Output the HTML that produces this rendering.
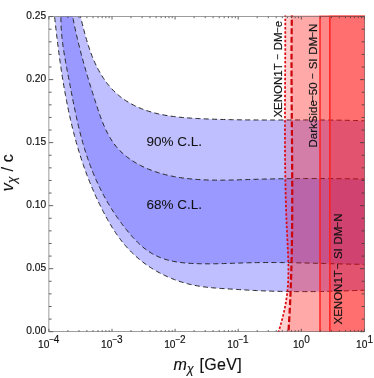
<!DOCTYPE html>
<html><head><meta charset="utf-8"><title>plot</title>
<style>
html,body{margin:0;padding:0;background:#fff;overflow:hidden;}
svg{display:block;will-change:transform;font-family:"Liberation Sans",sans-serif;}
.t text{stroke:#111;stroke-width:0.16px;}
.t text.big{stroke-width:0.06px;}
</style></head>
<body>
<svg width="374" height="378" viewBox="0 0 374 378">
<rect width="374" height="378" fill="#fff"/>
<defs>
<filter id="f" x="0" y="0" width="374" height="378" filterUnits="userSpaceOnUse"><feOffset dx="0" dy="0"/></filter>
<clipPath id="c"><rect x="48.9" y="16.6" width="315.5" height="315.1"/></clipPath>
<clipPath id="c2"><rect x="48.9" y="15.45" width="316.05" height="316.60"/></clipPath>
</defs>
<g clip-path="url(#c)">
<path d="M53.9 9.0L53.91 10.54L54.07 12.03L54.23 13.52L54.39 15.01L54.55 16.50L54.72 18.00L54.88 19.49L55.05 20.98L55.21 22.47L55.38 23.97L55.55 25.46L55.72 26.96L55.89 28.45L56.06 29.95L56.23 31.44L56.41 32.94L56.58 34.44L56.76 35.93L56.94 37.43L57.12 38.93L57.30 40.42L57.48 41.92L57.67 43.42L57.85 44.92L58.04 46.41L58.23 47.91L58.42 49.41L58.62 50.91L58.81 52.40L59.01 53.90L59.21 55.40L59.42 56.90L59.62 58.39L59.83 59.89L60.03 61.39L60.25 62.89L60.46 64.38L60.67 65.88L60.89 67.38L61.11 68.87L61.34 70.37L61.56 71.86L61.79 73.36L62.02 74.85L62.26 76.35L62.49 77.84L62.73 79.33L62.97 80.83L63.22 82.32L63.47 83.81L63.72 85.30L63.97 86.79L64.23 88.28L64.49 89.77L64.76 91.26L65.02 92.75L65.29 94.23L65.57 95.72L65.84 97.21L66.12 98.69L66.41 100.18L66.70 101.66L66.99 103.14L67.28 104.62L67.58 106.10L67.88 107.58L68.19 109.06L68.50 110.54L68.81 112.02L69.13 113.49L69.45 114.97L69.78 116.44L70.11 117.91L70.44 119.38L70.78 120.86L71.12 122.32L71.47 123.79L71.82 125.26L72.18 126.72L72.54 128.19L72.90 129.65L73.27 131.11L73.64 132.57L74.02 134.03L74.40 135.49L74.79 136.94L75.18 138.40L75.58 139.85L75.98 141.30L76.39 142.75L76.80 144.20L77.22 145.65L77.64 147.09L78.06 148.53L78.50 149.98L78.93 151.42L79.37 152.85L79.82 154.29L80.28 155.73L80.73 157.16L81.20 158.59L81.67 160.02L82.14 161.45L82.62 162.87L83.11 164.30L83.60 165.72L84.10 167.14L84.60 168.56L85.11 169.97L85.62 171.39L86.14 172.80L86.67 174.21L87.20 175.62L87.74 177.02L88.28 178.43L88.83 179.83L89.38 181.23L89.94 182.62L90.51 184.02L91.08 185.41L91.66 186.80L92.25 188.19L92.84 189.58L93.44 190.96L94.04 192.35L94.65 193.73L95.27 195.10L95.89 196.48L96.52 197.85L97.16 199.22L97.80 200.59L98.45 201.96L99.10 203.32L99.76 204.68L100.43 206.04L101.10 207.40L101.79 208.75L102.47 210.10L103.17 211.45L103.87 212.80L104.58 214.14L105.29 215.48L106.02 216.82L106.75 218.15L107.49 219.47L108.23 220.79L108.99 222.11L109.76 223.42L110.53 224.72L111.32 226.02L112.11 227.31L112.92 228.60L113.73 229.87L114.56 231.14L115.39 232.40L116.24 233.65L117.10 234.89L117.97 236.13L118.85 237.35L119.74 238.56L120.65 239.77L121.57 240.96L122.50 242.14L123.45 243.31L124.40 244.47L125.38 245.61L126.36 246.74L127.36 247.86L128.38 248.97L129.41 250.06L130.45 251.14L131.51 252.21L132.58 253.26L133.67 254.30L134.77 255.32L135.88 256.33L137.01 257.33L138.15 258.31L139.30 259.27L140.47 260.22L141.64 261.16L142.83 262.08L144.04 262.99L145.25 263.88L146.47 264.76L147.71 265.62L148.95 266.47L150.21 267.30L151.48 268.12L152.76 268.92L154.04 269.70L155.34 270.47L156.65 271.23L157.97 271.97L159.29 272.69L160.62 273.40L161.97 274.09L163.32 274.76L164.68 275.42L166.04 276.06L167.42 276.69L168.80 277.30L170.19 277.89L171.59 278.47L172.99 279.03L174.40 279.57L175.81 280.10L177.24 280.61L178.66 281.10L180.10 281.58L181.54 282.03L182.98 282.47L184.43 282.90L185.88 283.30L187.34 283.69L188.80 284.06L190.26 284.41L191.73 284.75L193.21 285.07L194.68 285.37L196.16 285.65L197.64 285.91L199.13 286.16L200.61 286.39L202.10 286.61L203.59 286.82L205.09 287.01L206.58 287.19L208.08 287.36L209.58 287.51L211.08 287.66L212.59 287.80L214.09 287.93L215.59 288.06L217.10 288.17L218.61 288.28L220.12 288.39L221.63 288.49L223.14 288.59L224.64 288.68L226.15 288.78L227.67 288.87L229.18 288.96L230.69 289.06L232.19 289.15L233.70 289.25L235.21 289.34L236.72 289.44L238.23 289.53L239.74 289.63L241.25 289.72L242.76 289.81L244.27 289.90L245.77 289.99L247.28 290.08L248.79 290.17L250.30 290.25L251.81 290.33L253.31 290.41L254.82 290.48L256.33 290.56L257.84 290.63L259.34 290.70L260.85 290.76L262.36 290.82L263.86 290.88L265.37 290.94L266.88 291.00L268.39 291.05L269.89 291.10L271.40 291.15L272.91 291.19L274.41 291.24L275.92 291.28L277.43 291.31L278.93 291.35L280.44 291.38L281.95 291.42L283.45 291.44L284.96 291.47L286.47 291.50L287.97 291.52L289.48 291.54L290.99 291.56L292.49 291.57L294.00 291.59L295.51 291.60L297.01 291.61L298.52 291.61L300.03 291.62L301.53 291.62L303.04 291.62L304.55 291.62L306.05 291.62L307.56 291.62L309.07 291.61L310.58 291.60L312.08 291.59L313.59 291.58L315.10 291.56L316.60 291.54L318.11 291.53L319.62 291.51L321.13 291.48L322.63 291.46L324.14 291.43L325.65 291.41L327.16 291.38L328.67 291.35L330.17 291.31L331.68 291.28L333.19 291.24L334.70 291.20L336.21 291.16L337.71 291.12L339.22 291.08L340.73 291.03L342.24 290.99L343.75 290.94L345.26 290.89L346.77 290.84L348.28 290.79L349.79 290.73L351.30 290.68L352.81 290.62L354.32 290.56L355.83 290.50L357.34 290.44L358.85 290.38L360.36 290.32L361.87 290.25L363.38 290.18L364.89 290.11L366.40 290.05L366.4 120.8L364.93 120.82L363.40 120.77L361.88 120.72L360.36 120.67L358.84 120.62L357.31 120.57L355.79 120.53L354.27 120.49L352.76 120.45L351.24 120.41L349.72 120.37L348.21 120.34L346.69 120.31L345.18 120.28L343.66 120.25L342.15 120.22L340.64 120.19L339.13 120.17L337.62 120.15L336.11 120.13L334.60 120.11L333.09 120.09L331.58 120.07L330.07 120.06L328.57 120.04L327.06 120.03L325.56 120.02L324.05 120.01L322.55 120.00L321.04 119.99L319.54 119.98L318.04 119.98L316.54 119.97L315.03 119.97L313.53 119.96L312.03 119.96L310.53 119.96L309.03 119.96L307.53 119.95L306.03 119.95L304.53 119.95L303.03 119.95L301.53 119.96L300.04 119.96L298.54 119.96L297.04 119.96L295.54 119.96L294.04 119.97L292.55 119.97L291.05 119.97L289.55 119.98L288.06 119.98L286.56 119.98L285.06 119.98L283.57 119.99L282.07 119.99L280.57 119.99L279.08 120.00L277.58 120.00L276.08 120.00L274.59 120.00L273.09 120.00L271.59 120.00L270.09 120.00L268.60 120.00L267.10 120.00L265.60 120.00L264.11 120.00L262.61 119.99L261.11 119.99L259.61 119.98L258.11 119.98L256.61 119.97L255.12 119.97L253.62 119.96L252.12 119.95L250.62 119.94L249.12 119.92L247.62 119.91L246.11 119.90L244.61 119.88L243.11 119.87L241.61 119.85L240.11 119.83L238.60 119.81L237.10 119.78L235.59 119.76L234.09 119.73L232.58 119.71L231.08 119.68L229.57 119.65L228.07 119.61L226.56 119.58L225.05 119.54L223.54 119.51L222.03 119.47L220.52 119.42L219.01 119.38L217.50 119.33L215.98 119.29L214.47 119.23L212.96 119.18L211.44 119.13L209.92 119.07L208.41 119.01L206.89 118.95L205.37 118.88L203.85 118.82L202.33 118.75L200.81 118.67L199.29 118.60L197.77 118.52L196.24 118.44L194.72 118.35L193.19 118.26L191.67 118.17L190.15 118.07L188.62 117.97L187.10 117.85L185.58 117.74L184.06 117.61L182.54 117.48L181.02 117.34L179.50 117.19L177.99 117.03L176.48 116.86L174.97 116.68L173.46 116.49L171.96 116.29L170.46 116.08L168.96 115.85L167.47 115.62L165.98 115.37L164.50 115.11L163.02 114.83L161.54 114.54L160.07 114.23L158.60 113.91L157.14 113.58L155.68 113.22L154.23 112.85L152.79 112.47L151.35 112.06L149.92 111.64L148.49 111.20L147.07 110.74L145.66 110.26L144.25 109.76L142.85 109.24L141.46 108.70L140.08 108.13L138.71 107.55L137.34 106.94L135.99 106.32L134.64 105.67L133.31 104.99L131.99 104.30L130.68 103.58L129.38 102.84L128.10 102.08L126.83 101.30L125.58 100.49L124.35 99.66L123.13 98.81L121.92 97.93L120.74 97.04L119.57 96.11L118.42 95.17L117.30 94.20L116.19 93.21L115.10 92.19L114.04 91.16L112.99 90.10L111.97 89.02L110.96 87.92L109.97 86.80L109.01 85.65L108.06 84.50L107.13 83.32L106.22 82.12L105.33 80.91L104.46 79.68L103.61 78.44L102.78 77.18L101.96 75.90L101.17 74.61L100.39 73.31L99.63 71.99L98.88 70.67L98.16 69.33L97.45 67.98L96.76 66.62L96.08 65.25L95.42 63.87L94.78 62.48L94.16 61.08L93.55 59.68L92.96 58.27L92.38 56.85L91.82 55.43L91.27 54.00L90.74 52.56L90.22 51.12L89.72 49.68L89.22 48.23L88.74 46.78L88.27 45.33L87.81 43.87L87.36 42.41L86.92 40.95L86.49 39.48L86.06 38.02L85.65 36.55L85.24 35.09L84.84 33.62L84.45 32.16L84.06 30.70L83.68 29.23L83.31 27.77L82.93 26.32L82.57 24.86L82.20 23.41L81.84 21.96L81.48 20.51L81.12 19.07L80.76 17.64L80.41 16.21L80.05 14.78L79.70 13.36L79.34 11.95L78.98 10.54L78.62 9.15Z" fill="#bfbfff"/>
<path d="M60.9 9.0L61.08 10.48L61.02 12.02L60.97 13.55L60.93 15.08L60.91 16.61L60.91 18.13L60.92 19.65L60.94 21.17L60.98 22.68L61.03 24.20L61.09 25.71L61.17 27.21L61.25 28.72L61.35 30.22L61.46 31.72L61.58 33.22L61.72 34.72L61.86 36.22L62.01 37.71L62.17 39.20L62.34 40.69L62.52 42.18L62.71 43.67L62.91 45.15L63.11 46.64L63.32 48.12L63.54 49.60L63.77 51.09L64.00 52.57L64.24 54.05L64.48 55.53L64.73 57.00L64.98 58.48L65.24 59.96L65.51 61.44L65.77 62.91L66.04 64.39L66.32 65.87L66.59 67.34L66.87 68.82L67.15 70.30L67.43 71.78L67.72 73.25L68.00 74.73L68.29 76.21L68.57 77.69L68.86 79.17L69.14 80.65L69.43 82.13L69.71 83.62L70.00 85.10L70.28 86.58L70.57 88.07L70.85 89.55L71.14 91.04L71.42 92.52L71.71 94.01L72.00 95.49L72.29 96.98L72.58 98.47L72.87 99.95L73.16 101.44L73.46 102.92L73.75 104.41L74.05 105.89L74.36 107.37L74.66 108.86L74.97 110.34L75.28 111.82L75.59 113.30L75.91 114.78L76.23 116.26L76.55 117.74L76.88 119.21L77.21 120.69L77.54 122.16L77.88 123.63L78.22 125.10L78.57 126.57L78.92 128.04L79.28 129.51L79.64 130.97L80.01 132.43L80.38 133.89L80.76 135.35L81.14 136.81L81.53 138.26L81.93 139.71L82.33 141.16L82.74 142.61L83.15 144.05L83.57 145.49L84.00 146.93L84.43 148.36L84.87 149.80L85.32 151.23L85.78 152.66L86.24 154.08L86.71 155.50L87.18 156.92L87.66 158.34L88.15 159.76L88.65 161.17L89.16 162.58L89.67 163.98L90.19 165.38L90.71 166.78L91.25 168.18L91.79 169.57L92.34 170.96L92.90 172.35L93.47 173.74L94.05 175.12L94.63 176.50L95.22 177.87L95.82 179.24L96.43 180.61L97.05 181.97L97.68 183.34L98.31 184.69L98.96 186.05L99.61 187.40L100.27 188.75L100.94 190.09L101.62 191.43L102.31 192.77L103.01 194.11L103.72 195.44L104.44 196.76L105.17 198.09L105.90 199.41L106.65 200.72L107.41 202.03L108.17 203.34L108.95 204.64L109.73 205.94L110.52 207.23L111.33 208.52L112.14 209.81L112.96 211.09L113.79 212.36L114.63 213.63L115.47 214.89L116.33 216.15L117.20 217.40L118.07 218.65L118.95 219.89L119.84 221.13L120.75 222.35L121.65 223.58L122.57 224.79L123.50 226.00L124.43 227.21L125.38 228.40L126.33 229.59L127.29 230.78L128.25 231.95L129.23 233.12L130.22 234.28L131.21 235.44L132.21 236.58L133.23 237.71L134.25 238.83L135.29 239.93L136.33 241.02L137.40 242.09L138.47 243.14L139.56 244.17L140.66 245.18L141.78 246.17L142.91 247.14L144.06 248.08L145.22 248.99L146.41 249.88L147.61 250.74L148.83 251.57L150.07 252.36L151.32 253.13L152.60 253.87L153.89 254.58L155.19 255.26L156.52 255.90L157.85 256.52L159.21 257.11L160.58 257.67L161.96 258.19L163.35 258.69L164.76 259.16L166.18 259.60L167.62 260.01L169.06 260.39L170.52 260.74L171.98 261.06L173.45 261.36L174.94 261.64L176.43 261.89L177.92 262.13L179.43 262.34L180.94 262.53L182.45 262.70L183.97 262.86L185.49 263.00L187.01 263.12L188.54 263.23L190.07 263.33L191.59 263.42L193.12 263.49L194.64 263.56L196.17 263.62L197.69 263.67L199.21 263.71L200.73 263.74L202.25 263.77L203.76 263.79L205.28 263.81L206.79 263.81L208.30 263.82L209.82 263.81L211.33 263.80L212.84 263.79L214.34 263.77L215.85 263.75L217.36 263.72L218.86 263.69L220.37 263.65L221.87 263.62L223.38 263.58L224.88 263.53L226.38 263.49L227.88 263.44L229.39 263.39L230.89 263.35L232.39 263.30L233.89 263.24L235.39 263.19L236.89 263.14L238.39 263.09L239.89 263.04L241.39 262.99L242.89 262.94L244.39 262.90L245.89 262.85L247.39 262.81L248.89 262.77L250.40 262.74L251.90 262.70L253.40 262.67L254.90 262.64L256.40 262.62L257.91 262.60L259.41 262.58L260.92 262.56L262.42 262.55L263.92 262.54L265.43 262.53L266.93 262.52L268.44 262.52L269.94 262.52L271.45 262.52L272.96 262.52L274.46 262.53L275.97 262.53L277.48 262.54L278.98 262.55L280.49 262.57L282.00 262.58L283.50 262.60L285.01 262.62L286.52 262.64L288.03 262.66L289.54 262.68L291.04 262.71L292.55 262.73L294.06 262.76L295.57 262.79L297.08 262.82L298.59 262.85L300.09 262.88L301.60 262.91L303.11 262.95L304.62 262.98L306.13 263.02L307.64 263.06L309.15 263.09L310.66 263.13L312.17 263.17L313.67 263.21L315.18 263.25L316.69 263.29L318.20 263.33L319.71 263.37L321.22 263.41L322.73 263.45L324.24 263.49L325.74 263.53L327.25 263.57L328.76 263.61L330.27 263.65L331.78 263.69L333.28 263.73L334.79 263.77L336.30 263.81L337.81 263.85L339.31 263.89L340.82 263.92L342.33 263.96L343.83 264.00L345.34 264.03L346.85 264.07L348.35 264.10L349.86 264.13L351.36 264.16L352.87 264.19L354.37 264.22L355.88 264.25L357.38 264.28L358.88 264.30L360.39 264.33L361.89 264.35L363.39 264.37L364.90 264.39L366.40 264.41L366.4 179.0L364.90 179.00L363.40 178.98L361.91 178.95L360.41 178.93L358.92 178.91L357.42 178.89L355.92 178.86L354.42 178.84L352.92 178.82L351.41 178.80L349.91 178.78L348.41 178.77L346.90 178.75L345.39 178.73L343.88 178.71L342.38 178.70L340.87 178.68L339.36 178.67L337.84 178.66L336.33 178.64L334.82 178.63L333.31 178.62L331.79 178.61L330.28 178.60L328.76 178.59L327.25 178.58L325.73 178.58L324.21 178.57L322.70 178.56L321.18 178.56L319.66 178.55L318.14 178.55L316.62 178.55L315.10 178.55L313.59 178.55L312.07 178.55L310.55 178.55L309.03 178.55L307.51 178.55L305.99 178.56L304.47 178.56L302.95 178.57L301.43 178.58L299.91 178.58L298.39 178.59L296.87 178.60L295.35 178.61L293.84 178.63L292.32 178.64L290.80 178.65L289.28 178.67L287.77 178.68L286.25 178.70L284.73 178.72L283.22 178.74L281.70 178.76L280.19 178.78L278.68 178.81L277.16 178.83L275.65 178.86L274.14 178.88L272.63 178.91L271.12 178.94L269.61 178.97L268.10 179.00L266.59 179.03L265.09 179.07L263.58 179.10L262.08 179.14L260.58 179.18L259.08 179.22L257.57 179.26L256.07 179.30L254.58 179.34L253.08 179.38L251.58 179.43L250.09 179.48L248.60 179.52L247.10 179.57L245.61 179.62L244.12 179.67L242.63 179.71L241.14 179.76L239.64 179.81L238.15 179.85L236.66 179.89L235.17 179.93L233.68 179.97L232.18 180.01L230.69 180.04L229.19 180.07L227.69 180.09L226.19 180.12L224.69 180.14L223.19 180.15L221.69 180.16L220.18 180.16L218.67 180.16L217.16 180.16L215.65 180.15L214.13 180.13L212.62 180.11L211.10 180.08L209.57 180.04L208.05 180.00L206.53 179.95L205.00 179.89L203.47 179.82L201.95 179.75L200.42 179.66L198.89 179.57L197.37 179.47L195.84 179.36L194.31 179.24L192.79 179.11L191.26 178.97L189.74 178.81L188.22 178.65L186.70 178.48L185.18 178.30L183.66 178.10L182.15 177.89L180.64 177.67L179.13 177.44L177.63 177.19L176.13 176.94L174.63 176.66L173.14 176.38L171.65 176.08L170.17 175.77L168.69 175.44L167.21 175.10L165.74 174.74L164.28 174.37L162.82 173.98L161.37 173.57L159.92 173.15L158.48 172.72L157.05 172.26L155.62 171.79L154.20 171.31L152.79 170.80L151.39 170.28L149.99 169.74L148.60 169.18L147.22 168.60L145.85 168.00L144.49 167.39L143.13 166.75L141.79 166.09L140.45 165.42L139.13 164.72L137.81 164.01L136.51 163.27L135.21 162.51L133.93 161.73L132.66 160.93L131.41 160.10L130.17 159.26L128.94 158.39L127.74 157.50L126.55 156.59L125.38 155.65L124.23 154.69L123.10 153.71L122.00 152.71L120.91 151.68L119.85 150.63L118.81 149.55L117.80 148.45L116.82 147.32L115.86 146.17L114.94 145.00L114.04 143.80L113.16 142.58L112.31 141.34L111.49 140.08L110.68 138.80L109.91 137.51L109.15 136.20L108.42 134.87L107.71 133.53L107.01 132.18L106.34 130.82L105.68 129.45L105.05 128.07L104.43 126.68L103.82 125.28L103.23 123.88L102.66 122.47L102.10 121.06L101.55 119.64L101.01 118.21L100.48 116.78L99.97 115.35L99.46 113.91L98.96 112.47L98.47 111.03L97.98 109.58L97.50 108.13L97.02 106.69L96.55 105.24L96.08 103.79L95.62 102.35L95.15 100.90L94.69 99.45L94.22 98.01L93.76 96.57L93.30 95.12L92.85 93.68L92.39 92.24L91.94 90.80L91.49 89.35L91.04 87.91L90.59 86.47L90.15 85.03L89.70 83.59L89.26 82.15L88.83 80.71L88.39 79.27L87.96 77.83L87.53 76.39L87.10 74.95L86.67 73.51L86.25 72.06L85.83 70.62L85.41 69.18L85.00 67.74L84.59 66.29L84.18 64.85L83.77 63.40L83.37 61.96L82.97 60.51L82.57 59.06L82.18 57.62L81.79 56.17L81.40 54.72L81.02 53.26L80.64 51.81L80.26 50.36L79.89 48.90L79.52 47.45L79.15 45.99L78.79 44.53L78.43 43.07L78.08 41.61L77.73 40.14L77.38 38.68L77.04 37.21L76.70 35.74L76.36 34.27L76.03 32.80L75.70 31.32L75.38 29.84L75.06 28.37L74.75 26.88L74.44 25.40L74.13 23.92L73.83 22.43L73.54 20.94L73.24 19.44L72.96 17.95L72.67 16.45L72.40 14.95L72.12 13.45L71.86 11.94L71.59 10.43L71.34 8.92Z" fill="#9999ff"/>
<g fill="none" stroke="#262626" stroke-width="1.0" stroke-dasharray="5 3.3">
<path d="M53.9 9.0L53.91 10.54L54.07 12.03L54.23 13.52L54.39 15.01L54.55 16.50L54.72 18.00L54.88 19.49L55.05 20.98L55.21 22.47L55.38 23.97L55.55 25.46L55.72 26.96L55.89 28.45L56.06 29.95L56.23 31.44L56.41 32.94L56.58 34.44L56.76 35.93L56.94 37.43L57.12 38.93L57.30 40.42L57.48 41.92L57.67 43.42L57.85 44.92L58.04 46.41L58.23 47.91L58.42 49.41L58.62 50.91L58.81 52.40L59.01 53.90L59.21 55.40L59.42 56.90L59.62 58.39L59.83 59.89L60.03 61.39L60.25 62.89L60.46 64.38L60.67 65.88L60.89 67.38L61.11 68.87L61.34 70.37L61.56 71.86L61.79 73.36L62.02 74.85L62.26 76.35L62.49 77.84L62.73 79.33L62.97 80.83L63.22 82.32L63.47 83.81L63.72 85.30L63.97 86.79L64.23 88.28L64.49 89.77L64.76 91.26L65.02 92.75L65.29 94.23L65.57 95.72L65.84 97.21L66.12 98.69L66.41 100.18L66.70 101.66L66.99 103.14L67.28 104.62L67.58 106.10L67.88 107.58L68.19 109.06L68.50 110.54L68.81 112.02L69.13 113.49L69.45 114.97L69.78 116.44L70.11 117.91L70.44 119.38L70.78 120.86L71.12 122.32L71.47 123.79L71.82 125.26L72.18 126.72L72.54 128.19L72.90 129.65L73.27 131.11L73.64 132.57L74.02 134.03L74.40 135.49L74.79 136.94L75.18 138.40L75.58 139.85L75.98 141.30L76.39 142.75L76.80 144.20L77.22 145.65L77.64 147.09L78.06 148.53L78.50 149.98L78.93 151.42L79.37 152.85L79.82 154.29L80.28 155.73L80.73 157.16L81.20 158.59L81.67 160.02L82.14 161.45L82.62 162.87L83.11 164.30L83.60 165.72L84.10 167.14L84.60 168.56L85.11 169.97L85.62 171.39L86.14 172.80L86.67 174.21L87.20 175.62L87.74 177.02L88.28 178.43L88.83 179.83L89.38 181.23L89.94 182.62L90.51 184.02L91.08 185.41L91.66 186.80L92.25 188.19L92.84 189.58L93.44 190.96L94.04 192.35L94.65 193.73L95.27 195.10L95.89 196.48L96.52 197.85L97.16 199.22L97.80 200.59L98.45 201.96L99.10 203.32L99.76 204.68L100.43 206.04L101.10 207.40L101.79 208.75L102.47 210.10L103.17 211.45L103.87 212.80L104.58 214.14L105.29 215.48L106.02 216.82L106.75 218.15L107.49 219.47L108.23 220.79L108.99 222.11L109.76 223.42L110.53 224.72L111.32 226.02L112.11 227.31L112.92 228.60L113.73 229.87L114.56 231.14L115.39 232.40L116.24 233.65L117.10 234.89L117.97 236.13L118.85 237.35L119.74 238.56L120.65 239.77L121.57 240.96L122.50 242.14L123.45 243.31L124.40 244.47L125.38 245.61L126.36 246.74L127.36 247.86L128.38 248.97L129.41 250.06L130.45 251.14L131.51 252.21L132.58 253.26L133.67 254.30L134.77 255.32L135.88 256.33L137.01 257.33L138.15 258.31L139.30 259.27L140.47 260.22L141.64 261.16L142.83 262.08L144.04 262.99L145.25 263.88L146.47 264.76L147.71 265.62L148.95 266.47L150.21 267.30L151.48 268.12L152.76 268.92L154.04 269.70L155.34 270.47L156.65 271.23L157.97 271.97L159.29 272.69L160.62 273.40L161.97 274.09L163.32 274.76L164.68 275.42L166.04 276.06L167.42 276.69L168.80 277.30L170.19 277.89L171.59 278.47L172.99 279.03L174.40 279.57L175.81 280.10L177.24 280.61L178.66 281.10L180.10 281.58L181.54 282.03L182.98 282.47L184.43 282.90L185.88 283.30L187.34 283.69L188.80 284.06L190.26 284.41L191.73 284.75L193.21 285.07L194.68 285.37L196.16 285.65L197.64 285.91L199.13 286.16L200.61 286.39L202.10 286.61L203.59 286.82L205.09 287.01L206.58 287.19L208.08 287.36L209.58 287.51L211.08 287.66L212.59 287.80L214.09 287.93L215.59 288.06L217.10 288.17L218.61 288.28L220.12 288.39L221.63 288.49L223.14 288.59L224.64 288.68L226.15 288.78L227.67 288.87L229.18 288.96L230.69 289.06L232.19 289.15L233.70 289.25L235.21 289.34L236.72 289.44L238.23 289.53L239.74 289.63L241.25 289.72L242.76 289.81L244.27 289.90L245.77 289.99L247.28 290.08L248.79 290.17L250.30 290.25L251.81 290.33L253.31 290.41L254.82 290.48L256.33 290.56L257.84 290.63L259.34 290.70L260.85 290.76L262.36 290.82L263.86 290.88L265.37 290.94L266.88 291.00L268.39 291.05L269.89 291.10L271.40 291.15L272.91 291.19L274.41 291.24L275.92 291.28L277.43 291.31L278.93 291.35L280.44 291.38L281.95 291.42L283.45 291.44L284.96 291.47L286.47 291.50L287.97 291.52L289.48 291.54L290.99 291.56L292.49 291.57L294.00 291.59L295.51 291.60L297.01 291.61L298.52 291.61L300.03 291.62L301.53 291.62L303.04 291.62L304.55 291.62L306.05 291.62L307.56 291.62L309.07 291.61L310.58 291.60L312.08 291.59L313.59 291.58L315.10 291.56L316.60 291.54L318.11 291.53L319.62 291.51L321.13 291.48L322.63 291.46L324.14 291.43L325.65 291.41L327.16 291.38L328.67 291.35L330.17 291.31L331.68 291.28L333.19 291.24L334.70 291.20L336.21 291.16L337.71 291.12L339.22 291.08L340.73 291.03L342.24 290.99L343.75 290.94L345.26 290.89L346.77 290.84L348.28 290.79L349.79 290.73L351.30 290.68L352.81 290.62L354.32 290.56L355.83 290.50L357.34 290.44L358.85 290.38L360.36 290.32L361.87 290.25L363.38 290.18L364.89 290.11L366.40 290.05"/><path d="M366.4 120.8L364.93 120.82L363.40 120.77L361.88 120.72L360.36 120.67L358.84 120.62L357.31 120.57L355.79 120.53L354.27 120.49L352.76 120.45L351.24 120.41L349.72 120.37L348.21 120.34L346.69 120.31L345.18 120.28L343.66 120.25L342.15 120.22L340.64 120.19L339.13 120.17L337.62 120.15L336.11 120.13L334.60 120.11L333.09 120.09L331.58 120.07L330.07 120.06L328.57 120.04L327.06 120.03L325.56 120.02L324.05 120.01L322.55 120.00L321.04 119.99L319.54 119.98L318.04 119.98L316.54 119.97L315.03 119.97L313.53 119.96L312.03 119.96L310.53 119.96L309.03 119.96L307.53 119.95L306.03 119.95L304.53 119.95L303.03 119.95L301.53 119.96L300.04 119.96L298.54 119.96L297.04 119.96L295.54 119.96L294.04 119.97L292.55 119.97L291.05 119.97L289.55 119.98L288.06 119.98L286.56 119.98L285.06 119.98L283.57 119.99L282.07 119.99L280.57 119.99L279.08 120.00L277.58 120.00L276.08 120.00L274.59 120.00L273.09 120.00L271.59 120.00L270.09 120.00L268.60 120.00L267.10 120.00L265.60 120.00L264.11 120.00L262.61 119.99L261.11 119.99L259.61 119.98L258.11 119.98L256.61 119.97L255.12 119.97L253.62 119.96L252.12 119.95L250.62 119.94L249.12 119.92L247.62 119.91L246.11 119.90L244.61 119.88L243.11 119.87L241.61 119.85L240.11 119.83L238.60 119.81L237.10 119.78L235.59 119.76L234.09 119.73L232.58 119.71L231.08 119.68L229.57 119.65L228.07 119.61L226.56 119.58L225.05 119.54L223.54 119.51L222.03 119.47L220.52 119.42L219.01 119.38L217.50 119.33L215.98 119.29L214.47 119.23L212.96 119.18L211.44 119.13L209.92 119.07L208.41 119.01L206.89 118.95L205.37 118.88L203.85 118.82L202.33 118.75L200.81 118.67L199.29 118.60L197.77 118.52L196.24 118.44L194.72 118.35L193.19 118.26L191.67 118.17L190.15 118.07L188.62 117.97L187.10 117.85L185.58 117.74L184.06 117.61L182.54 117.48L181.02 117.34L179.50 117.19L177.99 117.03L176.48 116.86L174.97 116.68L173.46 116.49L171.96 116.29L170.46 116.08L168.96 115.85L167.47 115.62L165.98 115.37L164.50 115.11L163.02 114.83L161.54 114.54L160.07 114.23L158.60 113.91L157.14 113.58L155.68 113.22L154.23 112.85L152.79 112.47L151.35 112.06L149.92 111.64L148.49 111.20L147.07 110.74L145.66 110.26L144.25 109.76L142.85 109.24L141.46 108.70L140.08 108.13L138.71 107.55L137.34 106.94L135.99 106.32L134.64 105.67L133.31 104.99L131.99 104.30L130.68 103.58L129.38 102.84L128.10 102.08L126.83 101.30L125.58 100.49L124.35 99.66L123.13 98.81L121.92 97.93L120.74 97.04L119.57 96.11L118.42 95.17L117.30 94.20L116.19 93.21L115.10 92.19L114.04 91.16L112.99 90.10L111.97 89.02L110.96 87.92L109.97 86.80L109.01 85.65L108.06 84.50L107.13 83.32L106.22 82.12L105.33 80.91L104.46 79.68L103.61 78.44L102.78 77.18L101.96 75.90L101.17 74.61L100.39 73.31L99.63 71.99L98.88 70.67L98.16 69.33L97.45 67.98L96.76 66.62L96.08 65.25L95.42 63.87L94.78 62.48L94.16 61.08L93.55 59.68L92.96 58.27L92.38 56.85L91.82 55.43L91.27 54.00L90.74 52.56L90.22 51.12L89.72 49.68L89.22 48.23L88.74 46.78L88.27 45.33L87.81 43.87L87.36 42.41L86.92 40.95L86.49 39.48L86.06 38.02L85.65 36.55L85.24 35.09L84.84 33.62L84.45 32.16L84.06 30.70L83.68 29.23L83.31 27.77L82.93 26.32L82.57 24.86L82.20 23.41L81.84 21.96L81.48 20.51L81.12 19.07L80.76 17.64L80.41 16.21L80.05 14.78L79.70 13.36L79.34 11.95L78.98 10.54L78.62 9.15"/>
<path d="M60.9 9.0L61.08 10.48L61.02 12.02L60.97 13.55L60.93 15.08L60.91 16.61L60.91 18.13L60.92 19.65L60.94 21.17L60.98 22.68L61.03 24.20L61.09 25.71L61.17 27.21L61.25 28.72L61.35 30.22L61.46 31.72L61.58 33.22L61.72 34.72L61.86 36.22L62.01 37.71L62.17 39.20L62.34 40.69L62.52 42.18L62.71 43.67L62.91 45.15L63.11 46.64L63.32 48.12L63.54 49.60L63.77 51.09L64.00 52.57L64.24 54.05L64.48 55.53L64.73 57.00L64.98 58.48L65.24 59.96L65.51 61.44L65.77 62.91L66.04 64.39L66.32 65.87L66.59 67.34L66.87 68.82L67.15 70.30L67.43 71.78L67.72 73.25L68.00 74.73L68.29 76.21L68.57 77.69L68.86 79.17L69.14 80.65L69.43 82.13L69.71 83.62L70.00 85.10L70.28 86.58L70.57 88.07L70.85 89.55L71.14 91.04L71.42 92.52L71.71 94.01L72.00 95.49L72.29 96.98L72.58 98.47L72.87 99.95L73.16 101.44L73.46 102.92L73.75 104.41L74.05 105.89L74.36 107.37L74.66 108.86L74.97 110.34L75.28 111.82L75.59 113.30L75.91 114.78L76.23 116.26L76.55 117.74L76.88 119.21L77.21 120.69L77.54 122.16L77.88 123.63L78.22 125.10L78.57 126.57L78.92 128.04L79.28 129.51L79.64 130.97L80.01 132.43L80.38 133.89L80.76 135.35L81.14 136.81L81.53 138.26L81.93 139.71L82.33 141.16L82.74 142.61L83.15 144.05L83.57 145.49L84.00 146.93L84.43 148.36L84.87 149.80L85.32 151.23L85.78 152.66L86.24 154.08L86.71 155.50L87.18 156.92L87.66 158.34L88.15 159.76L88.65 161.17L89.16 162.58L89.67 163.98L90.19 165.38L90.71 166.78L91.25 168.18L91.79 169.57L92.34 170.96L92.90 172.35L93.47 173.74L94.05 175.12L94.63 176.50L95.22 177.87L95.82 179.24L96.43 180.61L97.05 181.97L97.68 183.34L98.31 184.69L98.96 186.05L99.61 187.40L100.27 188.75L100.94 190.09L101.62 191.43L102.31 192.77L103.01 194.11L103.72 195.44L104.44 196.76L105.17 198.09L105.90 199.41L106.65 200.72L107.41 202.03L108.17 203.34L108.95 204.64L109.73 205.94L110.52 207.23L111.33 208.52L112.14 209.81L112.96 211.09L113.79 212.36L114.63 213.63L115.47 214.89L116.33 216.15L117.20 217.40L118.07 218.65L118.95 219.89L119.84 221.13L120.75 222.35L121.65 223.58L122.57 224.79L123.50 226.00L124.43 227.21L125.38 228.40L126.33 229.59L127.29 230.78L128.25 231.95L129.23 233.12L130.22 234.28L131.21 235.44L132.21 236.58L133.23 237.71L134.25 238.83L135.29 239.93L136.33 241.02L137.40 242.09L138.47 243.14L139.56 244.17L140.66 245.18L141.78 246.17L142.91 247.14L144.06 248.08L145.22 248.99L146.41 249.88L147.61 250.74L148.83 251.57L150.07 252.36L151.32 253.13L152.60 253.87L153.89 254.58L155.19 255.26L156.52 255.90L157.85 256.52L159.21 257.11L160.58 257.67L161.96 258.19L163.35 258.69L164.76 259.16L166.18 259.60L167.62 260.01L169.06 260.39L170.52 260.74L171.98 261.06L173.45 261.36L174.94 261.64L176.43 261.89L177.92 262.13L179.43 262.34L180.94 262.53L182.45 262.70L183.97 262.86L185.49 263.00L187.01 263.12L188.54 263.23L190.07 263.33L191.59 263.42L193.12 263.49L194.64 263.56L196.17 263.62L197.69 263.67L199.21 263.71L200.73 263.74L202.25 263.77L203.76 263.79L205.28 263.81L206.79 263.81L208.30 263.82L209.82 263.81L211.33 263.80L212.84 263.79L214.34 263.77L215.85 263.75L217.36 263.72L218.86 263.69L220.37 263.65L221.87 263.62L223.38 263.58L224.88 263.53L226.38 263.49L227.88 263.44L229.39 263.39L230.89 263.35L232.39 263.30L233.89 263.24L235.39 263.19L236.89 263.14L238.39 263.09L239.89 263.04L241.39 262.99L242.89 262.94L244.39 262.90L245.89 262.85L247.39 262.81L248.89 262.77L250.40 262.74L251.90 262.70L253.40 262.67L254.90 262.64L256.40 262.62L257.91 262.60L259.41 262.58L260.92 262.56L262.42 262.55L263.92 262.54L265.43 262.53L266.93 262.52L268.44 262.52L269.94 262.52L271.45 262.52L272.96 262.52L274.46 262.53L275.97 262.53L277.48 262.54L278.98 262.55L280.49 262.57L282.00 262.58L283.50 262.60L285.01 262.62L286.52 262.64L288.03 262.66L289.54 262.68L291.04 262.71L292.55 262.73L294.06 262.76L295.57 262.79L297.08 262.82L298.59 262.85L300.09 262.88L301.60 262.91L303.11 262.95L304.62 262.98L306.13 263.02L307.64 263.06L309.15 263.09L310.66 263.13L312.17 263.17L313.67 263.21L315.18 263.25L316.69 263.29L318.20 263.33L319.71 263.37L321.22 263.41L322.73 263.45L324.24 263.49L325.74 263.53L327.25 263.57L328.76 263.61L330.27 263.65L331.78 263.69L333.28 263.73L334.79 263.77L336.30 263.81L337.81 263.85L339.31 263.89L340.82 263.92L342.33 263.96L343.83 264.00L345.34 264.03L346.85 264.07L348.35 264.10L349.86 264.13L351.36 264.16L352.87 264.19L354.37 264.22L355.88 264.25L357.38 264.28L358.88 264.30L360.39 264.33L361.89 264.35L363.39 264.37L364.90 264.39L366.40 264.41"/><path d="M366.4 179.0L364.90 179.00L363.40 178.98L361.91 178.95L360.41 178.93L358.92 178.91L357.42 178.89L355.92 178.86L354.42 178.84L352.92 178.82L351.41 178.80L349.91 178.78L348.41 178.77L346.90 178.75L345.39 178.73L343.88 178.71L342.38 178.70L340.87 178.68L339.36 178.67L337.84 178.66L336.33 178.64L334.82 178.63L333.31 178.62L331.79 178.61L330.28 178.60L328.76 178.59L327.25 178.58L325.73 178.58L324.21 178.57L322.70 178.56L321.18 178.56L319.66 178.55L318.14 178.55L316.62 178.55L315.10 178.55L313.59 178.55L312.07 178.55L310.55 178.55L309.03 178.55L307.51 178.55L305.99 178.56L304.47 178.56L302.95 178.57L301.43 178.58L299.91 178.58L298.39 178.59L296.87 178.60L295.35 178.61L293.84 178.63L292.32 178.64L290.80 178.65L289.28 178.67L287.77 178.68L286.25 178.70L284.73 178.72L283.22 178.74L281.70 178.76L280.19 178.78L278.68 178.81L277.16 178.83L275.65 178.86L274.14 178.88L272.63 178.91L271.12 178.94L269.61 178.97L268.10 179.00L266.59 179.03L265.09 179.07L263.58 179.10L262.08 179.14L260.58 179.18L259.08 179.22L257.57 179.26L256.07 179.30L254.58 179.34L253.08 179.38L251.58 179.43L250.09 179.48L248.60 179.52L247.10 179.57L245.61 179.62L244.12 179.67L242.63 179.71L241.14 179.76L239.64 179.81L238.15 179.85L236.66 179.89L235.17 179.93L233.68 179.97L232.18 180.01L230.69 180.04L229.19 180.07L227.69 180.09L226.19 180.12L224.69 180.14L223.19 180.15L221.69 180.16L220.18 180.16L218.67 180.16L217.16 180.16L215.65 180.15L214.13 180.13L212.62 180.11L211.10 180.08L209.57 180.04L208.05 180.00L206.53 179.95L205.00 179.89L203.47 179.82L201.95 179.75L200.42 179.66L198.89 179.57L197.37 179.47L195.84 179.36L194.31 179.24L192.79 179.11L191.26 178.97L189.74 178.81L188.22 178.65L186.70 178.48L185.18 178.30L183.66 178.10L182.15 177.89L180.64 177.67L179.13 177.44L177.63 177.19L176.13 176.94L174.63 176.66L173.14 176.38L171.65 176.08L170.17 175.77L168.69 175.44L167.21 175.10L165.74 174.74L164.28 174.37L162.82 173.98L161.37 173.57L159.92 173.15L158.48 172.72L157.05 172.26L155.62 171.79L154.20 171.31L152.79 170.80L151.39 170.28L149.99 169.74L148.60 169.18L147.22 168.60L145.85 168.00L144.49 167.39L143.13 166.75L141.79 166.09L140.45 165.42L139.13 164.72L137.81 164.01L136.51 163.27L135.21 162.51L133.93 161.73L132.66 160.93L131.41 160.10L130.17 159.26L128.94 158.39L127.74 157.50L126.55 156.59L125.38 155.65L124.23 154.69L123.10 153.71L122.00 152.71L120.91 151.68L119.85 150.63L118.81 149.55L117.80 148.45L116.82 147.32L115.86 146.17L114.94 145.00L114.04 143.80L113.16 142.58L112.31 141.34L111.49 140.08L110.68 138.80L109.91 137.51L109.15 136.20L108.42 134.87L107.71 133.53L107.01 132.18L106.34 130.82L105.68 129.45L105.05 128.07L104.43 126.68L103.82 125.28L103.23 123.88L102.66 122.47L102.10 121.06L101.55 119.64L101.01 118.21L100.48 116.78L99.97 115.35L99.46 113.91L98.96 112.47L98.47 111.03L97.98 109.58L97.50 108.13L97.02 106.69L96.55 105.24L96.08 103.79L95.62 102.35L95.15 100.90L94.69 99.45L94.22 98.01L93.76 96.57L93.30 95.12L92.85 93.68L92.39 92.24L91.94 90.80L91.49 89.35L91.04 87.91L90.59 86.47L90.15 85.03L89.70 83.59L89.26 82.15L88.83 80.71L88.39 79.27L87.96 77.83L87.53 76.39L87.10 74.95L86.67 73.51L86.25 72.06L85.83 70.62L85.41 69.18L85.00 67.74L84.59 66.29L84.18 64.85L83.77 63.40L83.37 61.96L82.97 60.51L82.57 59.06L82.18 57.62L81.79 56.17L81.40 54.72L81.02 53.26L80.64 51.81L80.26 50.36L79.89 48.90L79.52 47.45L79.15 45.99L78.79 44.53L78.43 43.07L78.08 41.61L77.73 40.14L77.38 38.68L77.04 37.21L76.70 35.74L76.36 34.27L76.03 32.80L75.70 31.32L75.38 29.84L75.06 28.37L74.75 26.88L74.44 25.40L74.13 23.92L73.83 22.43L73.54 20.94L73.24 19.44L72.96 17.95L72.67 16.45L72.40 14.95L72.12 13.45L71.86 11.94L71.59 10.43L71.34 8.92"/>
</g>
</g>
<g clip-path="url(#c2)">
<g fill="#ff0000" fill-opacity="0.185">
<path d="M285.2 13.6L285.24 15.11L285.25 16.62L285.26 18.14L285.26 19.65L285.27 21.16L285.27 22.68L285.27 24.19L285.28 25.71L285.28 27.22L285.28 28.74L285.28 30.25L285.28 31.76L285.28 33.28L285.28 34.79L285.28 36.31L285.28 37.82L285.28 39.33L285.28 40.85L285.27 42.36L285.27 43.88L285.27 45.39L285.26 46.90L285.26 48.42L285.25 49.93L285.25 51.45L285.24 52.96L285.24 54.47L285.23 55.99L285.23 57.50L285.22 59.01L285.21 60.53L285.21 62.04L285.20 63.55L285.19 65.07L285.19 66.58L285.18 68.09L285.17 69.61L285.16 71.12L285.16 72.63L285.15 74.15L285.14 75.66L285.13 77.17L285.12 78.69L285.12 80.20L285.11 81.71L285.10 83.23L285.09 84.74L285.08 86.25L285.08 87.76L285.07 89.28L285.06 90.79L285.05 92.30L285.05 93.82L285.04 95.33L285.03 96.84L285.03 98.36L285.02 99.87L285.01 101.38L285.01 102.89L285.00 104.41L284.99 105.92L284.99 107.43L284.98 108.95L284.98 110.46L284.97 111.97L284.97 113.48L284.96 115.00L284.96 116.51L284.96 118.02L284.95 119.53L284.95 121.05L284.95 122.56L284.95 124.07L284.95 125.58L284.95 127.10L284.95 128.61L284.95 130.12L284.95 131.63L284.95 133.15L284.95 134.66L284.95 136.17L284.96 137.69L284.96 139.20L284.96 140.71L284.97 142.22L284.98 143.74L284.98 145.25L284.99 146.76L285.00 148.27L285.00 149.79L285.01 151.30L285.02 152.81L285.03 154.32L285.04 155.84L285.06 157.35L285.07 158.86L285.08 160.37L285.10 161.89L285.11 163.40L285.13 164.91L285.15 166.42L285.17 167.94L285.18 169.45L285.20 170.96L285.23 172.47L285.25 173.99L285.27 175.50L285.29 177.01L285.32 178.52L285.34 180.04L285.37 181.55L285.40 183.06L285.43 184.57L285.46 186.09L285.49 187.60L285.52 189.11L285.56 190.62L285.59 192.14L285.63 193.65L285.66 195.16L285.70 196.67L285.74 198.19L285.78 199.70L285.82 201.21L285.87 202.72L285.91 204.24L285.96 205.75L286.00 207.26L286.05 208.77L286.10 210.29L286.15 211.80L286.21 213.31L286.26 214.83L286.31 216.34L286.37 217.85L286.43 219.36L286.49 220.88L286.55 222.39L286.61 223.90L286.68 225.42L286.74 226.93L286.81 228.44L286.88 229.95L286.95 231.47L287.02 232.98L287.09 234.49L287.17 236.01L287.25 237.52L287.32 239.03L287.40 240.54L287.48 242.06L287.56 243.57L287.63 245.08L287.71 246.60L287.78 248.11L287.85 249.62L287.92 251.13L287.99 252.64L288.05 254.16L288.11 255.67L288.17 257.18L288.22 258.69L288.27 260.20L288.31 261.71L288.34 263.22L288.37 264.73L288.39 266.24L288.41 267.75L288.41 269.25L288.41 270.76L288.40 272.27L288.39 273.77L288.36 275.28L288.32 276.78L288.28 278.29L288.22 279.79L288.15 281.30L288.07 282.80L287.98 284.30L287.88 285.80L287.76 287.30L287.63 288.80L287.49 290.30L287.33 291.80L287.16 293.29L286.98 294.79L286.78 296.28L286.57 297.78L286.35 299.27L286.12 300.76L285.87 302.26L285.61 303.74L285.34 305.23L285.05 306.72L284.75 308.21L284.45 309.69L284.13 311.18L283.79 312.66L283.45 314.14L283.10 315.62L282.73 317.10L282.35 318.57L281.97 320.05L281.57 321.52L281.16 322.99L280.74 324.46L280.31 325.93L279.87 327.40L279.42 328.86L278.97 330.32L278.50 331.78L278.02 333.24L277.53 334.70L373.4 340.7L373.4 7.6Z"/>
<path d="M291.8 13.6L291.87 15.11L291.85 16.62L291.83 18.12L291.80 19.63L291.78 21.14L291.76 22.65L291.75 24.15L291.73 25.66L291.71 27.17L291.69 28.68L291.68 30.18L291.66 31.69L291.65 33.20L291.64 34.71L291.63 36.21L291.61 37.72L291.60 39.23L291.59 40.74L291.59 42.24L291.58 43.75L291.57 45.26L291.56 46.77L291.56 48.28L291.55 49.78L291.55 51.29L291.54 52.80L291.54 54.31L291.53 55.81L291.53 57.32L291.53 58.83L291.53 60.34L291.53 61.85L291.53 63.35L291.53 64.86L291.53 66.37L291.53 67.88L291.53 69.39L291.54 70.89L291.54 72.40L291.54 73.91L291.55 75.42L291.55 76.93L291.56 78.43L291.56 79.94L291.57 81.45L291.57 82.96L291.58 84.47L291.59 85.97L291.59 87.48L291.60 88.99L291.61 90.50L291.62 92.01L291.62 93.52L291.63 95.02L291.64 96.53L291.65 98.04L291.66 99.55L291.67 101.06L291.68 102.56L291.69 104.07L291.70 105.58L291.71 107.09L291.72 108.60L291.74 110.11L291.75 111.61L291.76 113.12L291.77 114.63L291.78 116.14L291.79 117.65L291.80 119.16L291.82 120.66L291.83 122.17L291.84 123.68L291.85 125.19L291.87 126.70L291.88 128.21L291.89 129.71L291.90 131.22L291.91 132.73L291.93 134.24L291.94 135.75L291.95 137.26L291.96 138.76L291.97 140.27L291.99 141.78L292.00 143.29L292.01 144.80L292.02 146.31L292.03 147.81L292.04 149.32L292.05 150.83L292.06 152.34L292.08 153.85L292.09 155.36L292.10 156.86L292.11 158.37L292.12 159.88L292.13 161.39L292.13 162.90L292.14 164.40L292.15 165.91L292.16 167.42L292.17 168.93L292.18 170.44L292.18 171.95L292.19 173.45L292.20 174.96L292.20 176.47L292.21 177.98L292.21 179.49L292.22 181.00L292.22 182.50L292.23 184.01L292.23 185.52L292.24 187.03L292.24 188.54L292.24 190.04L292.24 191.55L292.24 193.06L292.24 194.57L292.24 196.08L292.24 197.58L292.24 199.09L292.24 200.60L292.24 202.11L292.24 203.62L292.23 205.12L292.23 206.63L292.22 208.14L292.22 209.65L292.21 211.16L292.21 212.66L292.20 214.17L292.19 215.68L292.18 217.19L292.17 218.69L292.16 220.20L292.15 221.71L292.14 223.22L292.13 224.72L292.11 226.23L292.10 227.74L292.08 229.25L292.07 230.76L292.05 232.26L292.03 233.77L292.02 235.28L292.00 236.79L291.98 238.29L291.96 239.80L291.93 241.31L291.91 242.82L291.89 244.32L291.86 245.83L291.84 247.34L291.81 248.84L291.78 250.35L291.75 251.86L291.72 253.37L291.69 254.87L291.66 256.38L291.63 257.89L291.59 259.39L291.56 260.90L291.52 262.41L291.49 263.92L291.45 265.42L291.41 266.93L291.37 268.44L291.32 269.94L291.28 271.45L291.24 272.96L291.19 274.46L291.15 275.97L291.10 277.48L291.05 278.98L291.00 280.49L290.95 282.00L290.89 283.50L290.84 285.01L290.78 286.52L290.73 288.02L290.67 289.53L290.61 291.04L290.55 292.54L290.49 294.05L290.42 295.55L290.36 297.06L290.29 298.57L290.22 300.07L290.16 301.58L290.08 303.09L290.01 304.59L289.94 306.10L289.86 307.60L289.79 309.11L289.71 310.62L289.63 312.12L289.55 313.63L289.47 315.13L289.38 316.64L289.30 318.14L289.21 319.65L289.12 321.16L289.03 322.66L288.94 324.17L288.85 325.67L288.75 327.18L288.65 328.68L288.56 330.19L288.45 331.69L288.35 333.20L288.25 334.70L373.4 340.7L373.4 7.6Z"/>
<rect x="320.0" y="16.20" width="64.40" height="335.10"/>
<rect x="329.85" y="16.20" width="54.55" height="335.10"/>
</g>
<path d="M285.2 13.6L285.24 15.11L285.25 16.62L285.26 18.14L285.26 19.65L285.27 21.16L285.27 22.68L285.27 24.19L285.28 25.71L285.28 27.22L285.28 28.74L285.28 30.25L285.28 31.76L285.28 33.28L285.28 34.79L285.28 36.31L285.28 37.82L285.28 39.33L285.28 40.85L285.27 42.36L285.27 43.88L285.27 45.39L285.26 46.90L285.26 48.42L285.25 49.93L285.25 51.45L285.24 52.96L285.24 54.47L285.23 55.99L285.23 57.50L285.22 59.01L285.21 60.53L285.21 62.04L285.20 63.55L285.19 65.07L285.19 66.58L285.18 68.09L285.17 69.61L285.16 71.12L285.16 72.63L285.15 74.15L285.14 75.66L285.13 77.17L285.12 78.69L285.12 80.20L285.11 81.71L285.10 83.23L285.09 84.74L285.08 86.25L285.08 87.76L285.07 89.28L285.06 90.79L285.05 92.30L285.05 93.82L285.04 95.33L285.03 96.84L285.03 98.36L285.02 99.87L285.01 101.38L285.01 102.89L285.00 104.41L284.99 105.92L284.99 107.43L284.98 108.95L284.98 110.46L284.97 111.97L284.97 113.48L284.96 115.00L284.96 116.51L284.96 118.02L284.95 119.53L284.95 121.05L284.95 122.56L284.95 124.07L284.95 125.58L284.95 127.10L284.95 128.61L284.95 130.12L284.95 131.63L284.95 133.15L284.95 134.66L284.95 136.17L284.96 137.69L284.96 139.20L284.96 140.71L284.97 142.22L284.98 143.74L284.98 145.25L284.99 146.76L285.00 148.27L285.00 149.79L285.01 151.30L285.02 152.81L285.03 154.32L285.04 155.84L285.06 157.35L285.07 158.86L285.08 160.37L285.10 161.89L285.11 163.40L285.13 164.91L285.15 166.42L285.17 167.94L285.18 169.45L285.20 170.96L285.23 172.47L285.25 173.99L285.27 175.50L285.29 177.01L285.32 178.52L285.34 180.04L285.37 181.55L285.40 183.06L285.43 184.57L285.46 186.09L285.49 187.60L285.52 189.11L285.56 190.62L285.59 192.14L285.63 193.65L285.66 195.16L285.70 196.67L285.74 198.19L285.78 199.70L285.82 201.21L285.87 202.72L285.91 204.24L285.96 205.75L286.00 207.26L286.05 208.77L286.10 210.29L286.15 211.80L286.21 213.31L286.26 214.83L286.31 216.34L286.37 217.85L286.43 219.36L286.49 220.88L286.55 222.39L286.61 223.90L286.68 225.42L286.74 226.93L286.81 228.44L286.88 229.95L286.95 231.47L287.02 232.98L287.09 234.49L287.17 236.01L287.25 237.52L287.32 239.03L287.40 240.54L287.48 242.06L287.56 243.57L287.63 245.08L287.71 246.60L287.78 248.11L287.85 249.62L287.92 251.13L287.99 252.64L288.05 254.16L288.11 255.67L288.17 257.18L288.22 258.69L288.27 260.20L288.31 261.71L288.34 263.22L288.37 264.73L288.39 266.24L288.41 267.75L288.41 269.25L288.41 270.76L288.40 272.27L288.39 273.77L288.36 275.28L288.32 276.78L288.28 278.29L288.22 279.79L288.15 281.30L288.07 282.80L287.98 284.30L287.88 285.80L287.76 287.30L287.63 288.80L287.49 290.30L287.33 291.80L287.16 293.29L286.98 294.79L286.78 296.28L286.57 297.78L286.35 299.27L286.12 300.76L285.87 302.26L285.61 303.74L285.34 305.23L285.05 306.72L284.75 308.21L284.45 309.69L284.13 311.18L283.79 312.66L283.45 314.14L283.10 315.62L282.73 317.10L282.35 318.57L281.97 320.05L281.57 321.52L281.16 322.99L280.74 324.46L280.31 325.93L279.87 327.40L279.42 328.86L278.97 330.32L278.50 331.78L278.02 333.24L277.53 334.70" fill="none" stroke="#de0a10" stroke-width="1.75" stroke-dasharray="2.45 1.78" stroke-dashoffset="-0.8"/>
<path d="M291.8 13.6L291.87 15.11L291.85 16.62L291.83 18.12L291.80 19.63L291.78 21.14L291.76 22.65L291.75 24.15L291.73 25.66L291.71 27.17L291.69 28.68L291.68 30.18L291.66 31.69L291.65 33.20L291.64 34.71L291.63 36.21L291.61 37.72L291.60 39.23L291.59 40.74L291.59 42.24L291.58 43.75L291.57 45.26L291.56 46.77L291.56 48.28L291.55 49.78L291.55 51.29L291.54 52.80L291.54 54.31L291.53 55.81L291.53 57.32L291.53 58.83L291.53 60.34L291.53 61.85L291.53 63.35L291.53 64.86L291.53 66.37L291.53 67.88L291.53 69.39L291.54 70.89L291.54 72.40L291.54 73.91L291.55 75.42L291.55 76.93L291.56 78.43L291.56 79.94L291.57 81.45L291.57 82.96L291.58 84.47L291.59 85.97L291.59 87.48L291.60 88.99L291.61 90.50L291.62 92.01L291.62 93.52L291.63 95.02L291.64 96.53L291.65 98.04L291.66 99.55L291.67 101.06L291.68 102.56L291.69 104.07L291.70 105.58L291.71 107.09L291.72 108.60L291.74 110.11L291.75 111.61L291.76 113.12L291.77 114.63L291.78 116.14L291.79 117.65L291.80 119.16L291.82 120.66L291.83 122.17L291.84 123.68L291.85 125.19L291.87 126.70L291.88 128.21L291.89 129.71L291.90 131.22L291.91 132.73L291.93 134.24L291.94 135.75L291.95 137.26L291.96 138.76L291.97 140.27L291.99 141.78L292.00 143.29L292.01 144.80L292.02 146.31L292.03 147.81L292.04 149.32L292.05 150.83L292.06 152.34L292.08 153.85L292.09 155.36L292.10 156.86L292.11 158.37L292.12 159.88L292.13 161.39L292.13 162.90L292.14 164.40L292.15 165.91L292.16 167.42L292.17 168.93L292.18 170.44L292.18 171.95L292.19 173.45L292.20 174.96L292.20 176.47L292.21 177.98L292.21 179.49L292.22 181.00L292.22 182.50L292.23 184.01L292.23 185.52L292.24 187.03L292.24 188.54L292.24 190.04L292.24 191.55L292.24 193.06L292.24 194.57L292.24 196.08L292.24 197.58L292.24 199.09L292.24 200.60L292.24 202.11L292.24 203.62L292.23 205.12L292.23 206.63L292.22 208.14L292.22 209.65L292.21 211.16L292.21 212.66L292.20 214.17L292.19 215.68L292.18 217.19L292.17 218.69L292.16 220.20L292.15 221.71L292.14 223.22L292.13 224.72L292.11 226.23L292.10 227.74L292.08 229.25L292.07 230.76L292.05 232.26L292.03 233.77L292.02 235.28L292.00 236.79L291.98 238.29L291.96 239.80L291.93 241.31L291.91 242.82L291.89 244.32L291.86 245.83L291.84 247.34L291.81 248.84L291.78 250.35L291.75 251.86L291.72 253.37L291.69 254.87L291.66 256.38L291.63 257.89L291.59 259.39L291.56 260.90L291.52 262.41L291.49 263.92L291.45 265.42L291.41 266.93L291.37 268.44L291.32 269.94L291.28 271.45L291.24 272.96L291.19 274.46L291.15 275.97L291.10 277.48L291.05 278.98L291.00 280.49L290.95 282.00L290.89 283.50L290.84 285.01L290.78 286.52L290.73 288.02L290.67 289.53L290.61 291.04L290.55 292.54L290.49 294.05L290.42 295.55L290.36 297.06L290.29 298.57L290.22 300.07L290.16 301.58L290.08 303.09L290.01 304.59L289.94 306.10L289.86 307.60L289.79 309.11L289.71 310.62L289.63 312.12L289.55 313.63L289.47 315.13L289.38 316.64L289.30 318.14L289.21 319.65L289.12 321.16L289.03 322.66L288.94 324.17L288.85 325.67L288.75 327.18L288.65 328.68L288.56 330.19L288.45 331.69L288.35 333.20L288.25 334.70" fill="none" stroke="#cc060c" stroke-width="2.25" stroke-dasharray="5.9 2.57" stroke-dashoffset="-6.2"/>
<g fill="none" stroke="#ff2020" stroke-width="1.5">
<rect x="320.0" y="16.20" width="64.40" height="335.10"/>
<rect x="329.85" y="16.20" width="54.55" height="335.10"/>
</g>
</g>
<path d="M48.90 331.70h4.30M364.40 331.70h-4.30M48.90 319.10h2.70M364.40 319.10h-2.70M48.90 306.49h2.70M364.40 306.49h-2.70M48.90 293.89h2.70M364.40 293.89h-2.70M48.90 281.28h2.70M364.40 281.28h-2.70M48.90 268.68h4.30M364.40 268.68h-4.30M48.90 256.08h2.70M364.40 256.08h-2.70M48.90 243.47h2.70M364.40 243.47h-2.70M48.90 230.87h2.70M364.40 230.87h-2.70M48.90 218.26h2.70M364.40 218.26h-2.70M48.90 205.66h4.30M364.40 205.66h-4.30M48.90 193.06h2.70M364.40 193.06h-2.70M48.90 180.45h2.70M364.40 180.45h-2.70M48.90 167.85h2.70M364.40 167.85h-2.70M48.90 155.24h2.70M364.40 155.24h-2.70M48.90 142.64h4.30M364.40 142.64h-4.30M48.90 130.04h2.70M364.40 130.04h-2.70M48.90 117.43h2.70M364.40 117.43h-2.70M48.90 104.83h2.70M364.40 104.83h-2.70M48.90 92.22h2.70M364.40 92.22h-2.70M48.90 79.62h4.30M364.40 79.62h-4.30M48.90 67.02h2.70M364.40 67.02h-2.70M48.90 54.41h2.70M364.40 54.41h-2.70M48.90 41.81h2.70M364.40 41.81h-2.70M48.90 29.20h2.70M364.40 29.20h-2.70M48.90 16.60h4.30M364.40 16.60h-4.30M48.90 331.70v-2.90M48.90 16.60v2.90M67.89 331.70v-1.60M67.89 16.60v1.60M79.01 331.70v-1.60M79.01 16.60v1.60M86.89 331.70v-1.60M86.89 16.60v1.60M93.01 331.70v-1.60M93.01 16.60v1.60M98.00 331.70v-1.60M98.00 16.60v1.60M102.23 331.70v-1.60M102.23 16.60v1.60M105.88 331.70v-1.60M105.88 16.60v1.60M109.11 331.70v-1.60M109.11 16.60v1.60M112.00 331.70v-2.90M112.00 16.60v2.90M130.99 331.70v-1.60M130.99 16.60v1.60M142.11 331.70v-1.60M142.11 16.60v1.60M149.99 331.70v-1.60M149.99 16.60v1.60M156.11 331.70v-1.60M156.11 16.60v1.60M161.10 331.70v-1.60M161.10 16.60v1.60M165.33 331.70v-1.60M165.33 16.60v1.60M168.98 331.70v-1.60M168.98 16.60v1.60M172.21 331.70v-1.60M172.21 16.60v1.60M175.10 331.70v-2.90M175.10 16.60v2.90M194.09 331.70v-1.60M194.09 16.60v1.60M205.21 331.70v-1.60M205.21 16.60v1.60M213.09 331.70v-1.60M213.09 16.60v1.60M219.21 331.70v-1.60M219.21 16.60v1.60M224.20 331.70v-1.60M224.20 16.60v1.60M228.43 331.70v-1.60M228.43 16.60v1.60M232.08 331.70v-1.60M232.08 16.60v1.60M235.31 331.70v-1.60M235.31 16.60v1.60M238.20 331.70v-2.90M238.20 16.60v2.90M257.19 331.70v-1.60M257.19 16.60v1.60M268.31 331.70v-1.60M268.31 16.60v1.60M276.19 331.70v-1.60M276.19 16.60v1.60M282.31 331.70v-1.60M282.31 16.60v1.60M287.30 331.70v-1.60M287.30 16.60v1.60M291.53 331.70v-1.60M291.53 16.60v1.60M295.18 331.70v-1.60M295.18 16.60v1.60M298.41 331.70v-1.60M298.41 16.60v1.60M301.30 331.70v-2.90M301.30 16.60v2.90M320.29 331.70v-1.60M320.29 16.60v1.60M331.41 331.70v-1.60M331.41 16.60v1.60M339.29 331.70v-1.60M339.29 16.60v1.60M345.41 331.70v-1.60M345.41 16.60v1.60M350.40 331.70v-1.60M350.40 16.60v1.60M354.63 331.70v-1.60M354.63 16.60v1.60M358.28 331.70v-1.60M358.28 16.60v1.60M361.51 331.70v-1.60M361.51 16.60v1.60M364.40 331.70v-2.90M364.40 16.60v2.90" fill="none" stroke="#3a3a3a" stroke-width="0.8"/>
<rect x="48.9" y="16.6" width="315.5" height="315.1" fill="none" stroke="#606060" stroke-width="0.62"/>
<g class="t" fill="#111" filter="url(#f)">
<text x="46.2" y="334.2" text-anchor="end" font-size="10.2">0.00</text><text x="46.2" y="271.2" text-anchor="end" font-size="10.2">0.05</text><text x="46.2" y="208.2" text-anchor="end" font-size="10.2">0.10</text><text x="46.2" y="145.1" text-anchor="end" font-size="10.2">0.15</text><text x="46.2" y="82.1" text-anchor="end" font-size="10.2">0.20</text><text x="46.2" y="19.1" text-anchor="end" font-size="10.2">0.25</text>
<text x="38.0" y="347.9" font-size="10.2">10</text><text x="49.3" y="342.1" font-size="8.4">−</text><text x="53.8" y="342.8" font-size="10">4</text><text x="101.1" y="347.9" font-size="10.2">10</text><text x="112.4" y="342.1" font-size="8.4">−</text><text x="116.9" y="342.8" font-size="10">3</text><text x="164.2" y="347.9" font-size="10.2">10</text><text x="175.5" y="342.1" font-size="8.4">−</text><text x="180.0" y="342.8" font-size="10">2</text><text x="227.3" y="347.9" font-size="10.2">10</text><text x="238.6" y="342.1" font-size="8.4">−</text><text x="243.1" y="342.8" font-size="10">1</text><text x="292.9" y="347.9" font-size="10.2">10</text><text x="304.3" y="342.8" font-size="10">0</text><text x="356.0" y="347.9" font-size="10.2">10</text><text x="367.4" y="342.8" font-size="10">1</text>
<text class="big" x="146.4" y="145.9" font-size="13.5">90% C.L.</text>
<text class="big" x="146.4" y="208.8" font-size="13.5">68% C.L.</text>
<text transform="translate(281.5 117.6) rotate(-90)" font-size="11.5"><tspan x="0.00" y="0">XENON1T</tspan><tspan x="58.01" y="-0.75" font-size="9.8">−</tspan><tspan x="67.42" y="0">DM</tspan><tspan x="84.75" y="-0.75" font-size="9.8">−</tspan><tspan x="90.27" y="0">e</tspan></text>
<text transform="translate(317.0 147.5) rotate(-90)" font-size="11.5"><tspan x="0.00" y="0">DarkSide</tspan><tspan x="46.74" y="-0.75" font-size="9.8">−</tspan><tspan x="52.26" y="0">50</tspan><tspan x="68.75" y="-0.75" font-size="9.8">−</tspan><tspan x="78.16" y="0">SI</tspan><tspan x="92.72" y="0">DM</tspan><tspan x="110.05" y="-0.75" font-size="9.8">−</tspan><tspan x="115.57" y="0">N</tspan></text>
<text transform="translate(342.0 324.5) rotate(-90)" font-size="11.5"><tspan x="0.00" y="0">XENON1T</tspan><tspan x="55.51" y="-0.75" font-size="9.8">−</tspan><tspan x="65.42" y="0">SI</tspan><tspan x="79.98" y="0">DM</tspan><tspan x="97.31" y="-0.75" font-size="9.8">−</tspan><tspan x="102.83" y="0">N</tspan></text>
<text x="173.6" y="369.5" font-size="16"><tspan font-style="italic">m</tspan><tspan font-style="italic" font-size="12.2" dy="3.6">χ</tspan><tspan dy="-3.6" dx="1" letter-spacing="0.36"> [GeV]</tspan></text>
<text transform="translate(12.6 191.2) rotate(-90)" font-size="16" word-spacing="0.5"><tspan font-style="italic">v</tspan><tspan font-style="italic" font-size="12.2" dy="3.6">χ</tspan><tspan dy="-3.6"> / c</tspan></text>
</g>
</svg>
</body></html>
